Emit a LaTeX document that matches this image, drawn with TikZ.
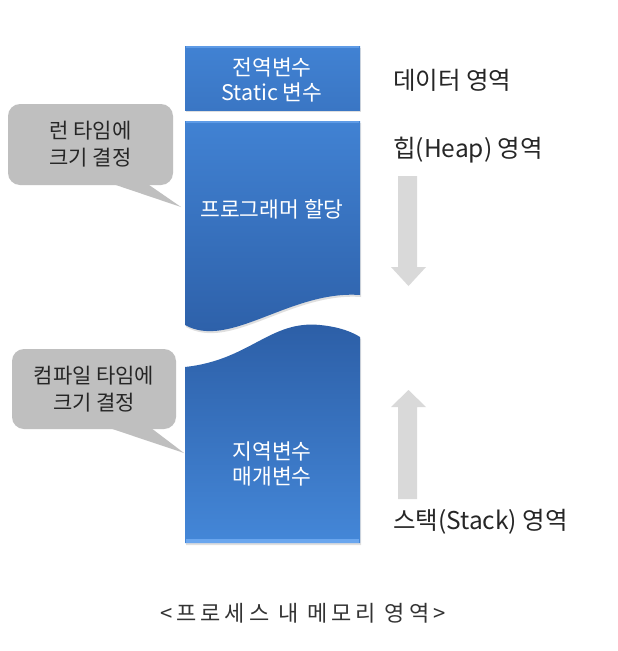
\documentclass[tikz,border=0pt]{standalone}
\usepackage{fontspec}
\setmainfont{Noto Sans CJK KR}
\newfontfamily\capfont[LetterSpace=18]{Noto Sans CJK KR}
\usetikzlibrary{shadows}
\definecolor{bluetop}{HTML}{4182D3}
\definecolor{bluemid}{HTML}{3A76C4}
\definecolor{bluedark}{HTML}{2C5EA6}
\definecolor{bluelight}{HTML}{4487D8}
\definecolor{bevel}{HTML}{6AA6EE}
\definecolor{callgray}{HTML}{BFBFBF}
\definecolor{arrgray}{HTML}{D9D9D9}
\definecolor{txtdark}{HTML}{262626}
\begin{document}
\begin{tikzpicture}[x=1pt,y=-1pt,
  boxshadow/.style={drop shadow={opacity=0.25,shadow xshift=1pt,shadow yshift=-2pt}},
  boxtxt/.style={text=white,font=\fontsize{21.5}{25}\selectfont,align=center,inner sep=0pt},
  calloutbox/.style={fill=callgray,rounded corners=12pt,text=txtdark,
    font=\fontsize{21}{27}\selectfont,align=center,inner sep=0pt},
  callouttail/.style={fill=callgray},
  blockarrow/.style={fill=arrgray},
  sidelabel/.style={text=txtdark,font=\fontsize{24.5}{26}\selectfont,anchor=west,inner sep=0pt},
  captiontxt/.style={text=black!80,font=\capfont\fontsize{22}{24}\selectfont,inner sep=0pt}]
\useasboundingbox[fill=white] (0,0) rectangle (618,651);

% data segment
\shade[top color=bluetop,bottom color=bluemid,boxshadow] (185,46) rectangle (360,110);
\fill[bevel!70!bluetop] (186,46) rectangle (359,48);
\node[boxtxt] (datatxt) at (272,79.5) {전역변수\\Static 변수};

% heap segment
\shade[top color=bluetop,bottom color=bluedark,boxshadow]
  (185,121) -- (360,121) -- (360,295)
  .. controls (290,290) and (230,350) .. (185,325) -- cycle;
\fill[bevel!70!bluetop] (186,121) rectangle (359,123);
\node[boxtxt] (heaptxt) at (272,209) {프로그래머 할당};

% stack segment
\shade[top color=bluedark,bottom color=bluelight,boxshadow]
  (185,367) .. controls (250,360) and (270,320) .. (320,325)
  .. controls (340,327) and (352,332) .. (360,337)
  -- (360,543) -- (185,543) -- cycle;
\fill[bevel] (186,539) rectangle (359,543);
\node[boxtxt] (stacktxt) at (272,463.5) {지역변수\\매개변수};

% callouts
\node[calloutbox,minimum width=165pt,minimum height=81pt] (call1) at (90.5,144.5) {런 타임에\\크기 결정};
\coordinate (tip1) at (181,207);
\fill[callouttail] ([xshift=20pt,yshift=2pt]call1.south) -- ([xshift=56pt,yshift=2pt]call1.south) -- (tip1) -- cycle;

\node[calloutbox,minimum width=164pt,minimum height=80pt] (call2) at (94,389) {컴파일 타임에\\크기 결정};
\coordinate (tip2) at (184,453);
\fill[callouttail] ([xshift=13pt,yshift=2pt]call2.south) -- ([xshift=56pt,yshift=2pt]call2.south) -- (tip2) -- cycle;

% growth arrows
\fill[blockarrow] (398,176) -- (417,176) -- (417,267) -- (426,267) -- (408.5,286) -- (391,267) -- (398,267) -- cycle;
\fill[blockarrow] (398,499) -- (417,499) -- (417,407) -- (426,407) -- (408.5,390) -- (391,407) -- (398,407) -- cycle;

% side labels
\node[sidelabel] (datalbl) at (393,80) {데이터 영역};
\node[sidelabel] (heaplbl) at (393,150) {힙(Heap) 영역};
\node[sidelabel] (stacklbl) at (393,522) {스택(Stack) 영역};

% caption
\node[captiontxt] (caption) at (303,613) {<프로세스 내 메모리 영역>};
\end{tikzpicture}
\end{document}
